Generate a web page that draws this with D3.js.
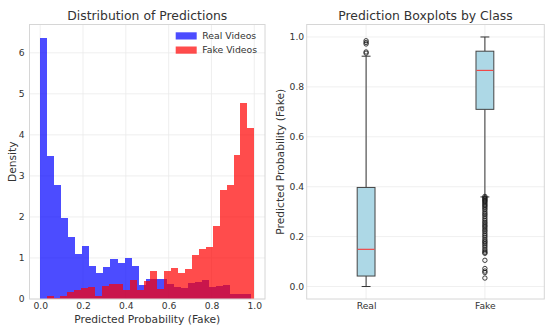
<!DOCTYPE html>
<html>
<head>
<meta charset="utf-8">
<script src="https://cdn.jsdelivr.net/npm/d3@7"></script>
<style>
  body { margin: 0; background: #fff; }
  svg text { font-family: "DejaVu Sans", sans-serif; fill: #333; }
</style>
</head>
<body>
<div id="chart"></div>
<script>
// histogram densities, 30 bins each
const realRange = [0.0, 0.985];
const realDensity = [6.37, 3.48, 2.77, 1.98, 1.52, 1.10, 1.29, 0.81, 0.63, 0.77,
  0.97, 0.87, 1.01, 0.81, 0.35, 0.48, 0.48, 0.48, 0.36, 0.30,
  0.26, 0.40, 0.42, 0.46, 0.30, 0.32, 0.34, 0.12, 0.12, 0.12];
const fakeRange = [0.03, 1.0];
const fakeDensity = [0.07, 0.03, 0.07, 0.17, 0.22, 0.27, 0.30, 0.07, 0.32, 0.36,
  0.36, 0.22, 0.46, 0.22, 0.45, 0.69, 0.24, 0.69, 0.75, 0.64,
  0.74, 1.07, 1.22, 1.27, 1.78, 2.65, 2.79, 3.50, 4.78, 4.16];
const histTicksX = [0, 0.2, 0.4, 0.6, 0.8, 1.0];
const histTicksY = [0, 1, 2, 3, 4, 5, 6];

// boxplot stats
const classes = ["Real", "Fake"];
const boxStats = [
  { q1: 0.042, median: 0.149, q3: 0.397, lo: 0.0, hi: 0.923 },
  { q1: 0.710, median: 0.866, q3: 0.943, lo: 0.359, hi: 1.0 }
];
const realFliers = [0.935, 0.94, 0.972, 0.978, 0.985];
const fakeFliers = [0.361, 0.356, 0.352, 0.348, 0.344, 0.34, 0.335, 0.33, 0.325, 0.32,
  0.314, 0.308, 0.3, 0.293, 0.287, 0.28, 0.272, 0.265, 0.258, 0.252, 0.245,
  0.24, 0.233, 0.226, 0.22, 0.212, 0.205, 0.198, 0.19, 0.183, 0.178, 0.172,
  0.165, 0.158, 0.15, 0.143, 0.137, 0.133, 0.105, 0.072, 0.062, 0.056, 0.034];
const boxTicksY = [0, 0.2, 0.4, 0.6, 0.8, 1.0];

const width = 550, height = 331;
const svg = d3.select("#chart").append("svg")
  .attr("width", width)
  .attr("height", height);

const gridColor = "#ebebeb", frameColor = "#d6d6d6";
const tickFont = "9.2px", labelFont = "10.7px", titleFont = "12.4px";

// ---------- left: histogram ----------
const L = { left: 29.5, right: 265, top: 24.5, bottom: 299 };
const x1 = d3.scaleLinear().domain([-0.05, 1.05]).range([L.left, L.right]);
const y1 = d3.scaleLinear().domain([0, 6.69]).range([L.bottom, L.top]);

const g1 = svg.append("g");
g1.selectAll(".gx").data(histTicksX).join("line")
  .attr("x1", d => x1(d)).attr("x2", d => x1(d))
  .attr("y1", L.top).attr("y2", L.bottom)
  .attr("stroke", gridColor).attr("stroke-width", 0.8);
g1.selectAll(".gy").data(histTicksY).join("line")
  .attr("x1", L.left).attr("x2", L.right)
  .attr("y1", d => y1(d)).attr("y2", d => y1(d))
  .attr("stroke", gridColor).attr("stroke-width", 0.8);

function binsOf(range, dens) {
  const w = (range[1] - range[0]) / dens.length;
  return dens.map((v, i) => ({ x0: range[0] + i * w, x1: range[0] + (i + 1) * w, v }));
}

g1.selectAll(".real").data(binsOf(realRange, realDensity)).join("rect")
  .attr("x", d => x1(d.x0)).attr("width", d => x1(d.x1) - x1(d.x0))
  .attr("y", d => y1(d.v)).attr("height", d => y1(0) - y1(d.v))
  .attr("fill", "blue").attr("fill-opacity", 0.7)
  .attr("shape-rendering", "crispEdges");
g1.selectAll(".fake").data(binsOf(fakeRange, fakeDensity)).join("rect")
  .attr("x", d => x1(d.x0)).attr("width", d => x1(d.x1) - x1(d.x0))
  .attr("y", d => y1(d.v)).attr("height", d => y1(0) - y1(d.v))
  .attr("fill", "red").attr("fill-opacity", 0.7)
  .attr("shape-rendering", "crispEdges");

g1.append("rect")
  .attr("x", L.left).attr("y", L.top)
  .attr("width", L.right - L.left).attr("height", L.bottom - L.top)
  .attr("fill", "none").attr("stroke", frameColor).attr("stroke-width", 1);

g1.append("g")
  .attr("transform", `translate(0,${L.bottom})`)
  .call(d3.axisBottom(x1).tickValues(histTicksX).tickFormat(d3.format(".1f")).tickSize(0).tickPadding(3.5))
  .call(g => g.select(".domain").remove())
  .selectAll("text").style("font-size", tickFont).attr("fill", "#333");
g1.append("g")
  .attr("transform", `translate(${L.left},0)`)
  .call(d3.axisLeft(y1).tickValues(histTicksY).tickFormat(d3.format("d")).tickSize(0).tickPadding(5))
  .call(g => g.select(".domain").remove())
  .selectAll("text").style("font-size", tickFont).attr("fill", "#333");

svg.append("text").attr("x", (L.left + L.right) / 2).attr("y", 19.5)
  .attr("text-anchor", "middle").style("font-size", titleFont)
  .text("Distribution of Predictions");
svg.append("text").attr("x", (L.left + L.right) / 2).attr("y", 323)
  .attr("text-anchor", "middle").style("font-size", labelFont)
  .text("Predicted Probability (Fake)");
svg.append("text")
  .attr("transform", `translate(15.5,${(L.top + L.bottom) / 2}) rotate(-90)`)
  .attr("text-anchor", "middle").style("font-size", labelFont)
  .text("Density");

const legend = svg.append("g").attr("transform", "translate(175.7,32.3)");
[["Real Videos", "blue"], ["Fake Videos", "red"]].forEach(([name, c], i) => {
  legend.append("rect").attr("x", 0).attr("y", i * 14.2).attr("width", 21).attr("height", 7.2)
    .attr("fill", c).attr("fill-opacity", 0.7);
  legend.append("text").attr("x", 26.6).attr("y", i * 14.2 + 7)
    .style("font-size", "9.3px").text(name);
});

// ---------- right: boxplots ----------
const R = { left: 306.7, right: 544.3, top: 24.5, bottom: 299 };
const x2 = d3.scaleLinear().domain([0.5, 2.5]).range([R.left, R.right]);
const y2 = d3.scaleLinear().domain([-0.05, 1.05]).range([R.bottom, R.top]);
const pos = d3.scalePoint().domain(classes).range([x2(1), x2(2)]);

const g2 = svg.append("g");
g2.selectAll(".gy").data(boxTicksY).join("line")
  .attr("x1", R.left).attr("x2", R.right)
  .attr("y1", d => y2(d)).attr("y2", d => y2(d))
  .attr("stroke", gridColor).attr("stroke-width", 0.8);
g2.selectAll(".gx").data(classes).join("line")
  .attr("x1", d => pos(d)).attr("x2", d => pos(d))
  .attr("y1", R.top).attr("y2", R.bottom)
  .attr("stroke", gridColor).attr("stroke-width", 0.8);

g2.append("rect")
  .attr("x", R.left).attr("y", R.top)
  .attr("width", R.right - R.left).attr("height", R.bottom - R.top)
  .attr("fill", "none").attr("stroke", frameColor).attr("stroke-width", 1);

const boxW = x2(0.15) - x2(0), capW = boxW / 2;
const boxes = g2.selectAll(".box").data(boxStats.map((s, i) => ({ ...s, name: classes[i] }))).join("g");
boxes.append("line")
  .attr("x1", d => pos(d.name)).attr("x2", d => pos(d.name))
  .attr("y1", d => y2(d.lo)).attr("y2", d => y2(d.q1))
  .attr("stroke", "#333").attr("stroke-width", 1);
boxes.append("line")
  .attr("x1", d => pos(d.name)).attr("x2", d => pos(d.name))
  .attr("y1", d => y2(d.q3)).attr("y2", d => y2(d.hi))
  .attr("stroke", "#333").attr("stroke-width", 1);
boxes.selectAll(".cap").data(d => [d.lo, d.hi].map(v => ({ v, name: d.name }))).join("line")
  .attr("x1", d => pos(d.name) - capW / 2).attr("x2", d => pos(d.name) + capW / 2)
  .attr("y1", d => y2(d.v)).attr("y2", d => y2(d.v))
  .attr("stroke", "#333").attr("stroke-width", 1);
boxes.append("rect")
  .attr("x", d => pos(d.name) - boxW / 2).attr("width", boxW)
  .attr("y", d => y2(d.q3)).attr("height", d => y2(d.q1) - y2(d.q3))
  .attr("fill", "#add8e6").attr("stroke", "#444").attr("stroke-width", 1);
boxes.append("line")
  .attr("x1", d => pos(d.name) - boxW / 2 + 0.5).attr("x2", d => pos(d.name) + boxW / 2 - 0.5)
  .attr("y1", d => y2(d.median)).attr("y2", d => y2(d.median))
  .attr("stroke", "#f04848").attr("stroke-width", 1.2);

const fliers = [
  ...realFliers.map(v => ({ name: "Real", v })),
  ...fakeFliers.map(v => ({ name: "Fake", v }))
];
g2.selectAll(".flier").data(fliers).join("circle")
  .attr("cx", d => pos(d.name)).attr("cy", d => y2(d.v)).attr("r", 2.2)
  .attr("fill", "none").attr("stroke", "#111").attr("stroke-width", 0.8);

g2.append("g")
  .attr("transform", `translate(0,${R.bottom})`)
  .call(d3.axisBottom(pos).tickSize(0).tickPadding(3.5))
  .call(g => g.select(".domain").remove())
  .selectAll("text").style("font-size", tickFont).attr("fill", "#333");
g2.append("g")
  .attr("transform", `translate(${R.left},0)`)
  .call(d3.axisLeft(y2).tickValues(boxTicksY).tickFormat(d3.format(".1f")).tickSize(0).tickPadding(2.5))
  .call(g => g.select(".domain").remove())
  .selectAll("text").style("font-size", tickFont).attr("fill", "#333");

svg.append("text").attr("x", (R.left + R.right) / 2).attr("y", 19.5)
  .attr("text-anchor", "middle").style("font-size", titleFont)
  .text("Prediction Boxplots by Class");
svg.append("text")
  .attr("transform", `translate(283.7,${(R.top + R.bottom) / 2}) rotate(-90)`)
  .attr("text-anchor", "middle").style("font-size", labelFont)
  .text("Predicted Probability (Fake)");
</script>
</body>
</html>
